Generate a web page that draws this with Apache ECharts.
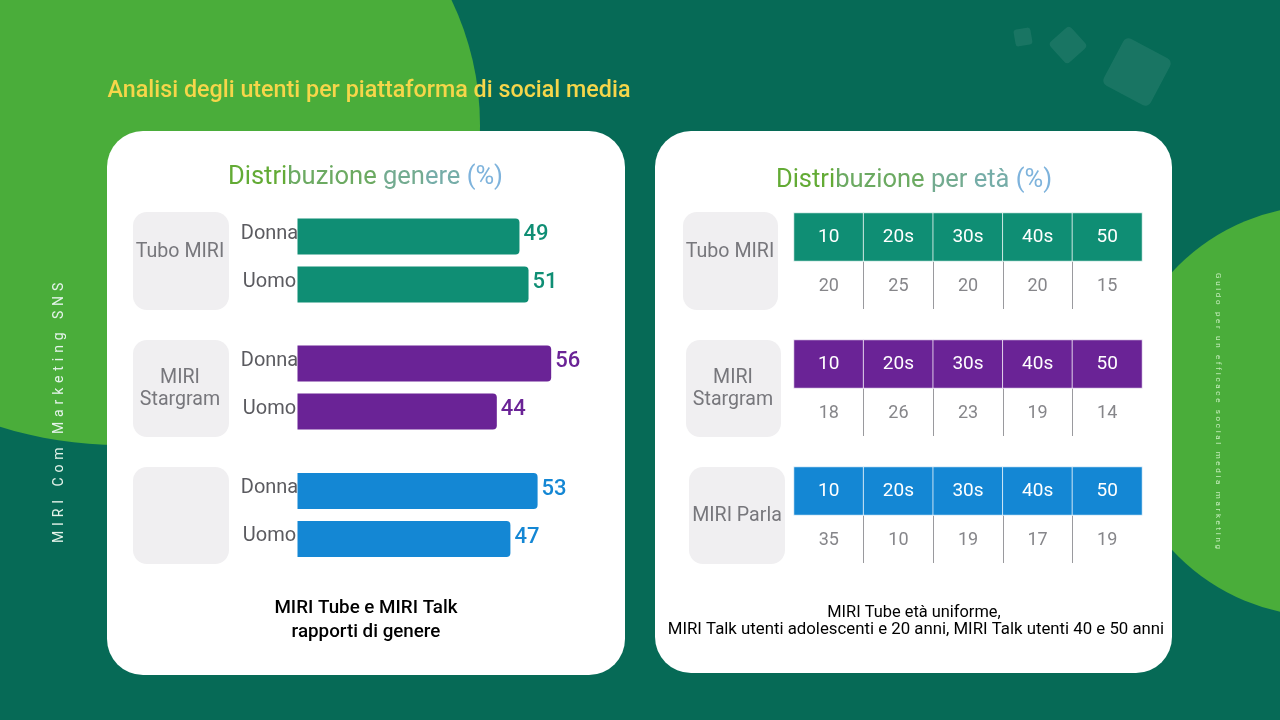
<!DOCTYPE html>
<html><head><meta charset="utf-8">
<style>
html,body{margin:0;padding:0;width:1280px;height:720px;overflow:hidden;background:#066a56}
#c{position:absolute;left:0;top:0;width:1280px;height:720px}
.side{position:absolute;white-space:nowrap;font-family:Roboto,sans-serif;transform-origin:0 0}
</style>
<script src="https://cdn.jsdelivr.net/npm/echarts@6/dist/echarts.min.js"></script>
</head><body>
<div id="c"></div>
<div class="side" style="left:51px;top:543px;transform:rotate(-90deg);font-size:14px;letter-spacing:4.9px;color:#e4f3ea;line-height:14px">MIRI Com Marketing SNS</div>
<div class="side" style="left:1222px;top:273px;transform:rotate(90deg);font-size:8px;letter-spacing:2.68px;color:#c8efbe;line-height:8px">Guido per un efficace social media marketing</div>
<script>
const genders = ['Donna', 'Uomo'];
const tubeGender = [49, 51];
const stargramGender = [56, 44];
const talkGender = [53, 47];
const ageBands = ['10', '20s', '30s', '40s', '50'];
const tubeAge = [20, 25, 20, 20, 15];
const stargramAge = [18, 26, 23, 19, 14];
const talkAge = [35, 10, 19, 17, 19];
const colors = ['#0f8e74', '#6a2396', '#1487d4'];
const FONT = 'Roboto';

const chart = echarts.init(document.getElementById('c'), null, {width:1280,height:720});

const barTops = [212.5, 339.5, 467];
const barData = [tubeGender, stargramGender, talkGender];
const tableTops = [213, 340, 467];
const tableData = [tubeAge, stargramAge, talkAge];

const grid = [], xAxis = [], yAxis = [], series = [];
barData.forEach((vals, i) => {
  grid.push({left:297.5, top:barTops[i], width:453, height:96});
  xAxis.push({gridIndex:i, type:'value', min:0, max:100, show:false});
  yAxis.push({gridIndex:i, type:'category', inverse:true, data:genders,
    axisLine:{show:false}, axisTick:{show:false},
    axisLabel:{margin:28, align:'center', verticalAlign:'bottom', lineHeight:6, fontFamily:FONT, fontSize:20, color:'#5b5b60'}});
  series.push({type:'bar', xAxisIndex:i, yAxisIndex:i, data:vals, barWidth:36,
    itemStyle:{color:colors[i], borderRadius:[0,4,4,0]},
    label:{show:true, position:'right', distance:4, offset:[0,-2], fontFamily:FONT, fontSize:22, fontWeight:500, color:colors[i]}});
});
tableData.forEach((vals, i) => {
  const k = i + 3;
  grid.push({left:794, top:tableTops[i], width:348, height:96});
  xAxis.push({gridIndex:k, type:'category', data:ageBands, axisLine:{show:false}, axisTick:{show:false}, axisLabel:{show:false},
    splitLine:{show:true, showMinLine:false, showMaxLine:false, interval:0, lineStyle:{color:'#9a9a9e', width:1}}});
  yAxis.push({gridIndex:k, type:'category', inverse:true, data:['band','share'], axisLine:{show:false}, axisTick:{show:false}, axisLabel:{show:false}, splitLine:{show:false}});
  const cells = [];
  ageBands.forEach((b, j) => {
    cells.push({value:[j, 0, j], itemStyle:{color:colors[i], borderColor:'rgba(255,255,255,0.75)', borderWidth:1},
      label:{color:'#ffffff', fontSize:19}});
    cells.push({value:[j, 1, vals[j]], itemStyle:{color:'rgba(0,0,0,0)', borderWidth:0},
      label:{color:'#86868a', fontSize:18, offset:[0,1]}});
  });
  series.push({type:'heatmap', xAxisIndex:k, yAxisIndex:k, data:cells, emphasis:{disabled:true},
    label:{show:true, fontFamily:FONT, formatter:p => p.value[1] === 0 ? ageBands[p.value[0]] : String(p.value[2])}});
});

const card = (x,y,w,h,r,fill,z) => ({type:'rect', z:z, shape:{x,y,width:w,height:h,r}, style:{fill}});
const txt = (x,y,text,size,fill,weight) => ({type:'text', z:1, x, y:y+2.5, style:{text, fill, font:`${weight||400} ${size}px ${FONT}`, textAlign:'center', textVerticalAlign:'middle'}});
const tile = (cx,cy,s,r,deg) => ({type:'rect', z:-18, x:cx, y:cy, rotation:deg*Math.PI/180,
  shape:{x:-s/2,y:-s/2,width:s,height:s,r}, style:{fill:'rgba(255,255,255,0.08)'}});
const richHead = (x,y,parts) => ({type:'text', z:1, x, y:y+2.5, style:{
  text: parts.map((p,i) => `{t${i}|${p[0]}}`).join(''),
  textAlign:'center', textVerticalAlign:'middle',
  rich: Object.fromEntries(parts.map((p,i) => ['t'+i, {fill:p[1], font:`400 25.5px ${FONT}`}]))
}});

const graphic = {elements:[
  card(0,0,1280,720,0,'#066a56',-20),
  {type:'ellipse', z:-19, shape:{cx:120,cy:125,rx:360,ry:320}, style:{fill:'#4aad3a'}},
  {type:'circle', z:-19, shape:{cx:1323.5,cy:411,r:205.5}, style:{fill:'#4aad3a'}},
  tile(1137,72,53,6,-28), tile(1068,45,28,4,42), tile(1023,37,17,3,10),
  card(107,131,518,544,36,'#ffffff',-10),
  card(655,131,517,542,36,'#ffffff',-10),
  card(133,212,96,98,14,'#f0eff1',-5), card(133,340,96,97,14,'#f0eff1',-5), card(133,467,96,97,14,'#f0eff1',-5),
  card(683,212,95,98,14,'#f0eff1',-5), card(686,340,95,97,14,'#f0eff1',-5), card(689,467,96,97,14,'#f0eff1',-5),
  txt(369,89,'Analisi degli utenti per piattaforma di social media',23.3,'#f6d64a',500),
  richHead(365.5,175,[['Distri','#63ab35'],['buzione','#6caa62'],[' gen','#73ab90'],['ere','#76ada8'],[' (%)','#7eb3dc']]),
  richHead(914,178,[['Distri','#63ab35'],['buzione','#6caa62'],[' per','#73ab90'],[' età','#76ada8'],[' (%)','#7eb3dc']]),
  txt(180,250,'Tubo MIRI',19.6,'#77777c'), txt(180,376,'MIRI',19.6,'#77777c'), txt(180,398,'Stargram',19.6,'#77777c'),
  txt(730,250,'Tubo MIRI',19.6,'#77777c'), txt(733,376,'MIRI',19.6,'#77777c'), txt(733,398,'Stargram',19.6,'#77777c'),
  txt(737,514,'MIRI Parla',19.6,'#77777c'),
  txt(366,606,'MIRI Tube e MIRI Talk',18.8,'#000000',500), txt(366,630,'rapporti di genere',18.8,'#000000',500),
  txt(914,610,'MIRI Tube età uniforme,',16.4,'#000000'),
  txt(916,627,'MIRI Talk utenti adolescenti e 20 anni, MIRI Talk utenti 40 e 50 anni',16.8,'#000000')
]};

chart.setOption({animation:false, backgroundColor:'#066a56', graphic, grid, xAxis, yAxis, series});
</script>
</body></html>
